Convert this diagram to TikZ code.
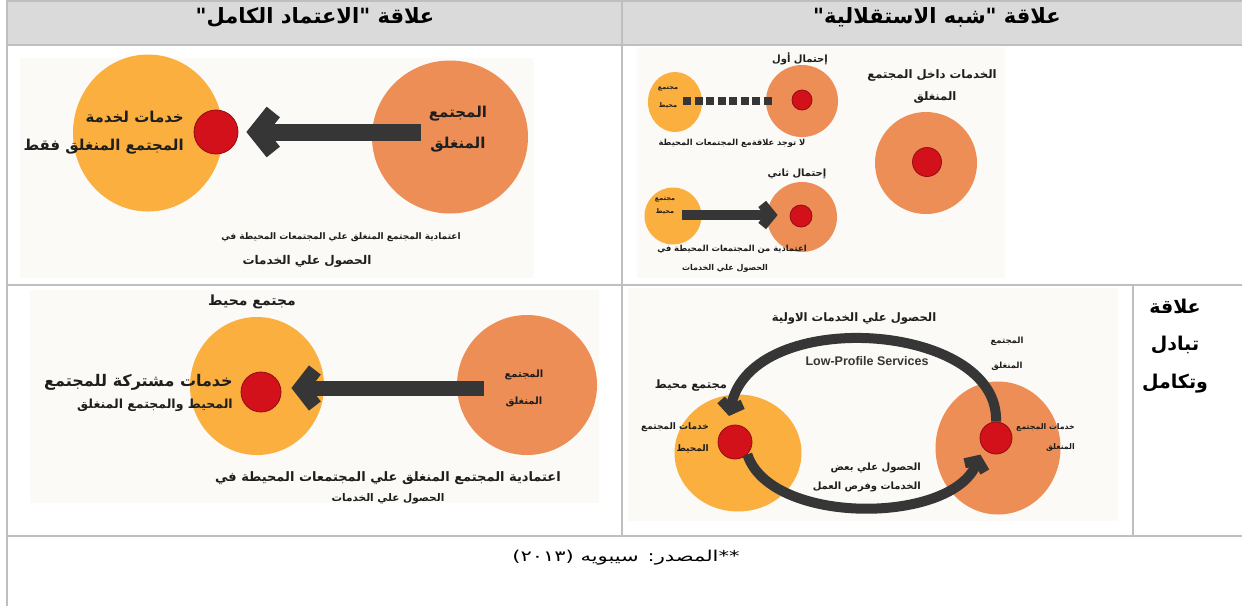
\documentclass[tikz,border=0pt]{standalone}
\usepackage{fontspec}
\usetikzlibrary{arrows.meta,shapes.geometric,calc}
\TeXXeTstate=1
\setmainfont{Liberation Sans}
\newfontfamily\arfont[Script=Arabic]{DejaVu Sans}
\newcommand\AR[1]{\beginR #1\endR}
\newcommand\FS[1]{\fontsize{#1}{#1}\selectfont}
\definecolor{gridc}{HTML}{BFBFBF}
\definecolor{headc}{HTML}{DADADA}
\definecolor{imgbg}{HTML}{FBFAF7}
\definecolor{amber}{HTML}{FAAF3E}
\definecolor{salmon}{HTML}{EC8E56}
\definecolor{dotred}{HTML}{D2111A}
\definecolor{arrowc}{HTML}{363636}
\definecolor{inkc}{HTML}{1E1E1E}
\begin{document}
\begin{tikzpicture}[x=1pt,y=-1pt,
  gridline/.style={draw=gridc, line width=2pt},
  amberblob/.style={ellipse, fill=amber, inner sep=0pt},
  salmonblob/.style={ellipse, fill=salmon, inner sep=0pt},
  reddot/.style={circle, fill=dotred, draw=dotred!70!black, line width=0.8pt, inner sep=0pt},
  lbl/.style={inner sep=0pt, font=\arfont\bfseries, text=inkc},
  bigarrow/.style={draw=arrowc, line width=17pt, line cap=butt, -{Straight Barb[length=16pt, width=40pt, line join=miter]}},
  midarrow/.style={draw=arrowc, line width=15pt, line cap=butt, -{Straight Barb[length=14pt, width=36pt, line join=miter]}},
  smallarrow/.style={draw=arrowc, line width=10pt, line cap=butt, -{Straight Barb[length=9pt, width=22pt, line join=miter]}},
  arcarrow/.style={draw=arrowc, line width=10pt, line cap=butt, -{Straight Barb[length=8pt, width=22pt, line join=miter]}},
  dashline/.style={draw=arrowc, line width=8pt, dash pattern=on 8pt off 3.5pt}
]
\useasboundingbox (0,0) rectangle (1242,606);
\fill[white] (0,0) rectangle (1242,606);
% header and image backgrounds
\fill[headc] (7,1) rectangle (1242,45);
\fill[imgbg] (20,58) rectangle (534,278);
\fill[imgbg] (637,47) rectangle (1005,278);
\fill[imgbg] (30,290) rectangle (599,503);
\fill[imgbg] (628,288) rectangle (1118,521);
% table grid
\draw[gridline] (7,0) -- (7,606);
\draw[gridline] (7,1) -- (1242,1);
\draw[gridline] (7,45) -- (1242,45);
\draw[gridline] (622,0) -- (622,536);
\draw[gridline] (7,285) -- (1242,285);
\draw[gridline] (1133,285) -- (1133,536);
\draw[gridline] (7,536) -- (1242,536);
% headers
\node[lbl, font=\arfont\bfseries\FS{21}, text=black] (h1) at (315,17) {\AR{علاقة "الاعتماد الكامل"}};
\node[lbl, font=\arfont\bfseries\FS{21}, text=black] (h2) at (937,17) {\AR{علاقة "شبه الاستقلالية"}};

% ===== Row 2 left: full dependence =====
\node[amberblob, minimum width=150pt, minimum height=157pt] (yA) at (148,133) {};
\node[salmonblob, minimum width=156pt, minimum height=153pt] (oA) at (450,137) {};
\node[reddot, minimum size=44pt] (rA) at (216,132) {};
\coordinate (aA) at (421,132);
\draw[bigarrow] (aA) -- ($(rA.east)+(8,0)$);
\node[lbl, font=\arfont\bfseries\FS{15}, anchor=east] (tA1) at (184,117) {\AR{خدمات لخدمة}};
\node[lbl, font=\arfont\bfseries\FS{15}, anchor=east] (tA2) at (184,147) {\AR{المجتمع المنغلق فقط}};
\node[lbl, font=\arfont\bfseries\FS{15}] (tA3) at (458,114) {\AR{المجتمع}};
\node[lbl, font=\arfont\bfseries\FS{15}] (tA4) at (458,145) {\AR{المنغلق}};
\node[lbl, font=\arfont\bfseries\FS{9}] (tA5) at (341,237) {\AR{اعتمادية المجتمع المنغلق علي المجتمعات المحيطة في}};
\node[lbl, font=\arfont\bfseries\FS{12}] (tA6) at (307,261) {\AR{الحصول علي الخدمات}};

% ===== Row 2 right: semi-independence =====
\node[lbl, font=\arfont\bfseries\FS{10}] (tB1) at (800,59) {\AR{إحتمال أول}};
\node[amberblob, minimum width=54pt, minimum height=60pt] (yB) at (675,102) {};
\node[salmonblob, minimum size=72pt] (oB) at (802,101) {};
\node[reddot, minimum size=20pt] (rB) at (802,100) {};
\draw[dashline] ($(yB.center)+(8,-1)$) -- ($(rB.west)+(-19,1)$);
\node[lbl, font=\arfont\bfseries\FS{6.5}] (tB2) at (668,89) {\AR{مجتمع}};
\node[lbl, font=\arfont\bfseries\FS{6.5}] (tB3) at (668,106) {\AR{محيط}};
\node[lbl, font=\arfont\bfseries\FS{8.3}] (tB4) at (732,143) {\AR{لا توجد علاقةمع المجتمعات المحيطة}};
\node[lbl, font=\arfont\bfseries\FS{10}] (tC1) at (797,174) {\AR{إحتمال ثاني}};
\node[amberblob, minimum size=57pt] (yC) at (673,216) {};
\node[salmonblob, minimum size=70pt] (oC) at (802,217) {};
\node[reddot, minimum size=22pt] (rC) at (801,216) {};
\coordinate (aC) at (682,215);
\draw[smallarrow] (aC) -- ($(rC.west)+(-12,-1)$);
\node[lbl, font=\arfont\bfseries\FS{6.5}] (tC2) at (665,200) {\AR{مجتمع}};
\node[lbl, font=\arfont\bfseries\FS{6.5}] (tC3) at (665,212) {\AR{محيط}};
\node[lbl, font=\arfont\bfseries\FS{8.4}] (tC4) at (732,249) {\AR{اعتمادية من المجتمعات المحيطة في}};
\node[lbl, font=\arfont\bfseries\FS{8}] (tC5) at (725,268) {\AR{الحصول علي الخدمات}};
\node[lbl, font=\arfont\bfseries\FS{11.7}] (tD1) at (932,75) {\AR{الخدمات داخل المجتمع}};
\node[lbl, font=\arfont\bfseries\FS{11.7}] (tD2) at (935,97) {\AR{المنغلق}};
\node[salmonblob, minimum size=102pt] (oD) at (926,163) {};
\node[reddot, minimum size=29pt] (rD) at (927,162) {};

% ===== Row 3 left =====
\node[lbl, font=\arfont\bfseries\FS{14}] (tE1) at (252,302) {\AR{مجتمع محيط}};
\node[amberblob, minimum width=134pt, minimum height=138pt] (yE) at (257,386) {};
\node[salmonblob, minimum size=140pt] (oE) at (527,385) {};
\node[reddot, minimum size=40pt] (rE) at (261,392) {};
\coordinate (aE) at (484,388);
\draw[midarrow] (aE) -- ($(rE.east)+(10,-4)$);
\node[lbl, font=\arfont\bfseries\FS{16}, anchor=east] (tE2) at (233,382) {\AR{خدمات مشتركة للمجتمع}};
\node[lbl, font=\arfont\bfseries\FS{12.5}, anchor=east] (tE3) at (233,405) {\AR{المحيط والمجتمع المنغلق}};
\node[lbl, font=\arfont\bfseries\FS{10}] (tE4) at (524,375) {\AR{المجتمع}};
\node[lbl, font=\arfont\bfseries\FS{10}] (tE5) at (524,402) {\AR{المنغلق}};
\node[lbl, font=\arfont\bfseries\FS{13}] (tE6) at (388,478) {\AR{اعتمادية المجتمع المنغلق علي المجتمعات المحيطة في}};
\node[lbl, font=\arfont\bfseries\FS{10.5}] (tE7) at (388,499) {\AR{الحصول علي الخدمات}};

% ===== Row 3 right =====
\node[amberblob, minimum width=127pt, minimum height=117pt] (yF) at (738,453) {};
\node[salmonblob, minimum width=125pt, minimum height=133pt] (oF) at (998,448) {};
\node[reddot, minimum size=34pt] (rF1) at (735,442) {};
\node[reddot, minimum size=32pt] (rF2) at (996,438) {};
\draw[arcarrow] (rF2.north) .. controls (1000,322) and (752,305) .. ($(rF1.center)+(-6,-26)$);
\draw[arcarrow] (rF1.south east) .. controls (770,525) and (950,525) .. ($(rF2.south west)+(-4,5)$);
\node[lbl, font=\arfont\bfseries\FS{11.6}] (tF1) at (854,319) {\AR{الحصول علي الخدمات الاولية}};
\node[inner sep=0pt, font=\bfseries\FS{12.5}, text=arrowc] (tF2) at (867,361) {Low-Profile Services};
\node[lbl, font=\arfont\bfseries\FS{8.5}] (tF3) at (1007,341) {\AR{المجتمع}};
\node[lbl, font=\arfont\bfseries\FS{8.5}] (tF4) at (1007,366) {\AR{المنغلق}};
\node[lbl, font=\arfont\bfseries\FS{11.5}] (tF5) at (691,386) {\AR{مجتمع محيط}};
\node[lbl, font=\arfont\bfseries\FS{9}, anchor=east] (tF6) at (709,427) {\AR{خدمات المجتمع}};
\node[lbl, font=\arfont\bfseries\FS{9}, anchor=east] (tF7) at (709,449) {\AR{المحيط}};
\node[lbl, font=\arfont\bfseries\FS{7.8}, anchor=east] (tF8) at (1075,427) {\AR{خدمات المجتمع}};
\node[lbl, font=\arfont\bfseries\FS{7.8}, anchor=east] (tF9) at (1075,447) {\AR{المنغلق}};
\node[lbl, font=\arfont\bfseries\FS{10}, anchor=east] (tF10) at (921,468) {\AR{الحصول علي بعض}};
\node[lbl, font=\arfont\bfseries\FS{10}, anchor=east] (tF11) at (921,487) {\AR{الخدمات وفرص العمل}};

% right column label
\node[lbl, font=\arfont\bfseries\FS{19}, text=black] (tG1) at (1175,306) {\AR{علاقة}};
\node[lbl, font=\arfont\bfseries\FS{19}, text=black] (tG2) at (1175,345) {\AR{تبادل}};
\node[lbl, font=\arfont\bfseries\FS{19}, text=black] (tG3) at (1175,384) {\AR{وتكامل}};

% source
\node[inner sep=0pt, font=\arfont\FS{15}, text=black] (src) at (626,558) {\scalebox{1.4}[1]{\AR{**المصدر: سيبويه (٢٠١٣)}}};
\end{tikzpicture}
\end{document}
